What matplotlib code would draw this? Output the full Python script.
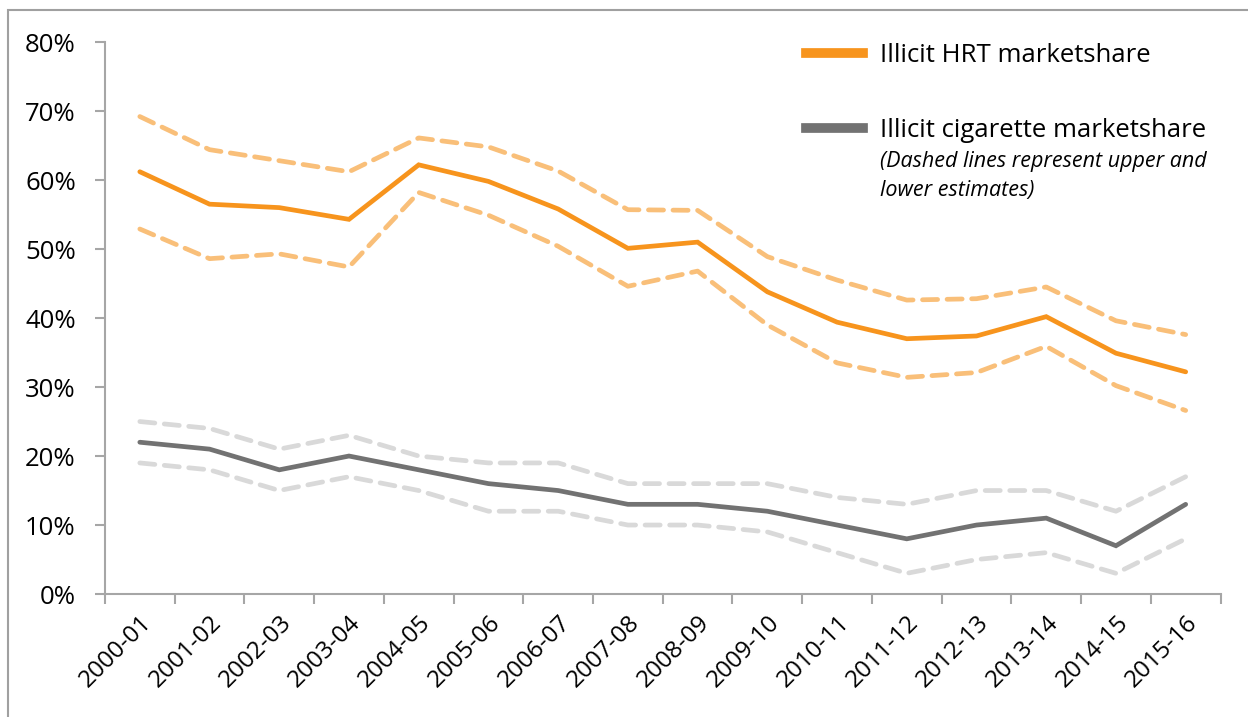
import matplotlib
matplotlib.use('Agg')
import matplotlib.pyplot as plt
import matplotlib.patches as mpatches
from matplotlib.lines import Line2D
from matplotlib.ticker import FuncFormatter

plt.rcParams['font.family'] = ['Open Sans', 'DejaVu Sans']

# 데이터
years = ['2000-01', '2001-02', '2002-03', '2003-04', '2004-05', '2005-06',
         '2006-07', '2007-08', '2008-09', '2009-10', '2010-11', '2011-12',
         '2012-13', '2013-14', '2014-15', '2015-16']

hrt = [61.2, 56.5, 56.0, 54.3, 62.2, 59.8, 55.8, 50.1, 51.0, 43.8, 39.4, 37.0,
       37.4, 40.2, 34.9, 32.2]
hrt_upper = [69.2, 64.4, 62.8, 61.2, 66.1, 64.8, 61.3, 55.7, 55.6, 48.9, 45.5,
             42.6, 42.8, 44.5, 39.6, 37.6]
hrt_lower = [52.9, 48.6, 49.3, 47.4, 58.2, 54.9, 50.4, 44.6, 46.8, 39.0, 33.5,
             31.4, 32.1, 35.9, 30.2, 26.6]

cig = [22, 21, 18, 20, 18, 16, 15, 13, 13, 12, 10, 8, 10, 11, 7, 13]
cig_upper = [25, 24, 21, 23, 20, 19, 19, 16, 16, 16, 14, 13, 15, 15, 12, 17]
cig_lower = [19, 18, 15, 17, 15, 12, 12, 10, 10, 9, 6, 3, 5, 6, 3, 8]

# 색상
orange = '#F7941D'
orange_light = '#F9BF79'
grey = '#727272'
grey_light = '#D9D9D9'
axis_grey = '#A6A6A6'

fig = plt.figure(figsize=(12.48, 7.17), dpi=100)
ax = fig.add_axes([0.0841, 0.1715, 0.8939, 0.7699])

x = range(len(years))
dash = (0, (3.2, 2.0))
lw = 3.4

ax.plot(x, cig_upper, color=grey_light, linewidth=lw, linestyle=dash,
        dash_capstyle='round')
ax.plot(x, cig_lower, color=grey_light, linewidth=lw, linestyle=dash,
        dash_capstyle='round')
ax.plot(x, hrt_upper, color=orange_light, linewidth=lw, linestyle=dash,
        dash_capstyle='round')
ax.plot(x, hrt_lower, color=orange_light, linewidth=lw, linestyle=dash,
        dash_capstyle='round')
ax.plot(x, cig, color=grey, linewidth=lw, solid_capstyle='round',
        solid_joinstyle='miter')
ax.plot(x, hrt, color=orange, linewidth=lw, solid_capstyle='round',
        solid_joinstyle='miter')

# 축 설정
ax.set_xlim(-0.5, len(years) - 0.5)
ax.set_ylim(0, 80)
ax.set_yticks(range(0, 81, 10))
ax.yaxis.set_major_formatter(FuncFormatter(lambda v, p: f'{int(v)}%'))

ax.set_xticks([i - 0.5 for i in range(len(years) + 1)], minor=False)
ax.set_xticklabels([])
ax.set_xticks(list(x), minor=True)
ax.set_xticklabels(years, minor=True, rotation=45, ha='right',
                   rotation_mode='anchor', fontsize=17.5)
ax.tick_params(axis='x', which='minor', length=0, pad=12)
ax.tick_params(axis='x', which='major', length=7, width=1.5, color=axis_grey,
               direction='out')
ax.tick_params(axis='y', length=7, width=1.5, color=axis_grey, labelsize=18.5,
               pad=14)

for side in ['top', 'right']:
    ax.spines[side].set_visible(False)
for side in ['left', 'bottom']:
    ax.spines[side].set_color(axis_grey)
    ax.spines[side].set_linewidth(1.5)

# 범례
legend_elements = [
    Line2D([0], [0], color=orange, linewidth=7, label='Illicit HRT marketshare'),
    Line2D([0], [0], color=grey, linewidth=7, label='Illicit cigarette marketshare'),
]
ax.legend(handles=legend_elements, loc='upper left', bbox_to_anchor=(0.608, 1.04),
          frameon=False, fontsize=18.5, handlelength=2.2, handletextpad=0.65,
          labelspacing=1.95)

fig.text(880 / 1248, 1 - 176 / 717,
         '(Dashed lines represent upper and\nlower estimates)',
         fontsize=15.5, style='italic', va='center', ha='left', linespacing=1.45)

# 외곽 테두리
fig.patches.append(mpatches.Rectangle((8 / 1248, -0.1), 1.2, 1 - 10 / 717 + 0.1,
                                      transform=fig.transFigure, fill=False,
                                      edgecolor='#A0A0A0', linewidth=1.5))

plt.savefig('out.png', dpi=100)
